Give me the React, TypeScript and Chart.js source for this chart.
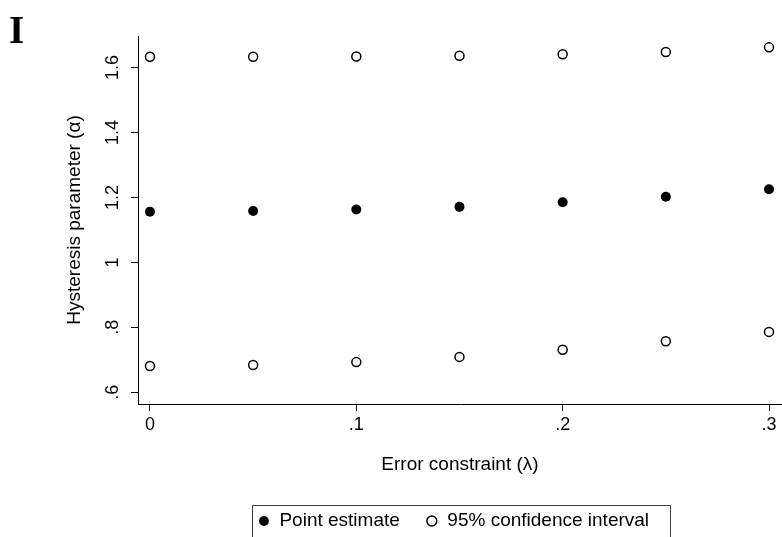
import React, { useEffect, useRef } from "react";
import { Chart, registerables } from "chart.js";

Chart.register(...registerables);

// ---- data ----
const lambdaValues = [0, 0.05, 0.1, 0.15, 0.2, 0.25, 0.3];
const pointEstimate = [1.156, 1.158, 1.163, 1.171, 1.185, 1.202, 1.225];
const ciUpper = [1.633, 1.633, 1.634, 1.636, 1.641, 1.648, 1.662];
const ciLower = [0.681, 0.684, 0.693, 0.709, 0.731, 0.757, 0.786];
const xTickValues = [0, 0.1, 0.2, 0.3];
const yTickValues = [0.6, 0.8, 1.0, 1.2, 1.4, 1.6];
const seriesLabels = ["Point estimate", "95% confidence interval"];
const xTitle = "Error constraint (\u03bb)";
const yTitle = "Hysteresis parameter (\u03b1)";
const panelLabel = "I";

function stataFormat(v: number): string {
  const s = String(Number(Number(v).toFixed(3)));
  return s.replace(/^0\./, ".").replace(/^-0\./, "-.");
}

const FONT = '"Liberation Sans", Arial, Helvetica, sans-serif';
const LEGEND_SHIFT = -6.5;

const panelLabelPlugin = {
  id: "panelLabel",
  afterDraw(chart: any) {
    const ctx = chart.ctx;
    ctx.save();
    ctx.fillStyle = "#000";
    ctx.font = 'bold 39px "Liberation Serif", "Times New Roman", serif';
    ctx.textBaseline = "alphabetic";
    ctx.textAlign = "left";
    ctx.fillText(panelLabel, 9, 43);
    ctx.restore();
  },
};

const legendShiftPlugin = {
  id: "legendShift",
  beforeDraw(chart: any) {
    const lg: any = chart.legend;
    if (!lg) return;
    lg.left += LEGEND_SHIFT;
    lg.right += LEGEND_SHIFT;
  },
};

const legendBoxPlugin = {
  id: "legendBox",
  afterDraw(chart: any) {
    const lg: any = chart.legend;
    const hb = lg && lg.legendHitBoxes;
    if (!hb || !hb.length) return;
    const first = hb[0];
    const last = hb[hb.length - 1];
    const cy = first.top + first.height / 2;
    const left = Math.round(first.left + LEGEND_SHIFT - 6) + 0.5;
    const right = Math.round(last.left + last.width + LEGEND_SHIFT + 21) + 0.5;
    const top = Math.round(cy - 16) + 0.5;
    const ctx = chart.ctx;
    ctx.save();
    ctx.strokeStyle = "#404040";
    ctx.lineWidth = 1;
    ctx.beginPath();
    ctx.moveTo(left, chart.height + 2);
    ctx.lineTo(left, top);
    ctx.lineTo(right, top);
    ctx.lineTo(right, chart.height + 2);
    ctx.stroke();
    ctx.restore();
  },
};

export default function App() {
  const canvasRef = useRef<HTMLCanvasElement | null>(null);

  useEffect(() => {
    const canvas = canvasRef.current;
    if (!canvas) return;
    Chart.defaults.font.family = FONT;
    Chart.defaults.color = "#000";

    const pointData = lambdaValues.map((x, i) => ({ x, y: pointEstimate[i] }));
    const ciData = [
      ...lambdaValues.map((x, i) => ({ x, y: ciUpper[i] })),
      ...lambdaValues.map((x, i) => ({ x, y: ciLower[i] })),
    ];

    const chart = new Chart(canvas, {
      type: "scatter",
      data: {
        datasets: [
          {
            label: seriesLabels[0],
            data: pointData,
            pointStyle: "circle",
            pointRadius: 5,
            pointHoverRadius: 5,
            backgroundColor: "#000",
            borderColor: "#000",
            borderWidth: 0,
          },
          {
            label: seriesLabels[1],
            data: ciData,
            pointStyle: "circle",
            pointRadius: 4.5,
            pointHoverRadius: 4.5,
            backgroundColor: "#fff",
            borderColor: "#000",
            borderWidth: 1.5,
          },
        ],
      },
      options: {
        animation: false,
        responsive: false,
        devicePixelRatio: 1,
        events: [],
        layout: {
          autoPadding: false,
          padding: { top: 36, left: 0, right: 0, bottom: -3.5 },
        },
        plugins: {
          tooltip: { enabled: false },
          title: { display: false },
          legend: {
            display: true,
            position: "bottom",
            fullSize: false,
            labels: {
              usePointStyle: true,
              boxWidth: 12,
              boxHeight: 7,
              padding: 26,
              color: "#000",
              font: { size: 19, family: FONT },
            },
          },
        },
        scales: {
          x: {
            type: "linear",
            min: -0.0058,
            max: 0.3063,
            afterBuildTicks: (s: any) => {
              s.ticks = xTickValues.map((v) => ({ value: v }));
            },
            afterFit: (s: any) => {
              s.height = 81.5;
              s.paddingLeft = 0;
              s.paddingRight = 0;
            },
            ticks: {
              autoSkip: false,
              maxRotation: 0,
              minRotation: 0,
              padding: 3,
              color: "#000",
              font: { size: 18, family: FONT },
              callback: (v: any) => stataFormat(Number(v)),
            },
            grid: {
              drawOnChartArea: false,
              drawTicks: true,
              tickLength: 7,
              color: "#000",
              lineWidth: 1,
            },
            border: { display: true, color: "#000", width: 1 },
            title: {
              display: true,
              text: xTitle,
              color: "#000",
              font: { size: 19, family: FONT },
              padding: { top: 0, bottom: 9 },
            },
          },
          y: {
            type: "linear",
            min: 0.564,
            max: 1.697,
            afterBuildTicks: (s: any) => {
              s.ticks = yTickValues.map((v) => ({ value: v }));
            },
            afterFit: (s: any) => {
              s.width = 138;
              s.paddingTop = 0;
              s.paddingBottom = 0;
            },
            ticks: {
              autoSkip: false,
              minRotation: 90,
              maxRotation: 90,
              crossAlign: "center",
              padding: 5,
              color: "#000",
              font: { size: 18, family: FONT },
              callback: (v: any) => stataFormat(Number(v)),
            },
            grid: {
              drawOnChartArea: false,
              drawTicks: true,
              tickLength: 7,
              color: "#000",
              lineWidth: 1,
            },
            border: { display: true, color: "#000", width: 1 },
            title: {
              display: true,
              text: yTitle,
              color: "#000",
              font: { size: 19, family: FONT },
              padding: { top: 63, bottom: 0 },
            },
          },
        },
      },
      plugins: [panelLabelPlugin, legendShiftPlugin, legendBoxPlugin],
    } as any);

    return () => {
      chart.destroy();
    };
  }, []);

  return (
    <div
      style={{
        position: "absolute",
        left: 0,
        top: 0,
        width: 782,
        height: 537,
        background: "#fff",
        overflow: "hidden",
      }}
    >
      <canvas ref={canvasRef} width={782} height={537} style={{ display: "block" }} />
    </div>
  );
}
